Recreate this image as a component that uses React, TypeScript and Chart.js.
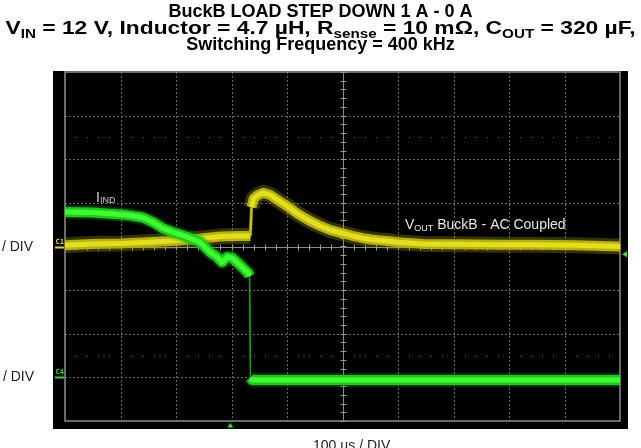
import React, { useEffect, useRef } from "react";
import { Chart, registerables } from "chart.js";

Chart.register(...registerables);

const CANVAS_W = 641;
const CANVAS_H = 448;

// ---- texts ----
const titleLine1: [string, boolean][] = [["BuckB LOAD STEP DOWN 1 A - 0 A", false]];
const titleLine2: [string, boolean][] = [
  ["V", false], ["IN", true], [" = 12 V, Inductor = 4.7 µH, R", false], ["sense", true],
  [" = 10 mΩ, C", false], ["OUT", true], [" = 320 µF,", false],
];
const titleLine3: [string, boolean][] = [["Switching Frequency = 400 kHz", false]];
const timeScaleLabel = "100 µs / DIV";
const voutScaleLabel = "20 mV / DIV";
const iindScaleLabel = "1 A / DIV";
const iindTraceLabel: [string, boolean][] = [["I", false], ["IND", true]];
const voutTraceLabel: [string, boolean][] = [["V", false], ["OUT", true], [" BuckB - AC Coupled", false]];
const ch1Name = "C1";
const ch4Name = "C4";

// ---- screen ranges (10 x 100 µs, 8 vertical divisions) ----
const timeMin = -500;
const timeMax = 500;
const timeDiv = 100;
const divMin = -4;
const divMax = 4;

// channel reference levels (divisions) and trigger
const ch1Level = 0;
const ch4Level = -3;
const triggerTime = -202; // µs
const triggerLevel = -0.18; // div

// ---- V_OUT (AC coupled), divisions vs time in µs ----
const voutTime = [
  -500, -450, -400, -350, -300, -250, -220, -190, -170, -166, -164, -160, -152, -143,
  -130, -115, -100, -82, -65, -53, -38, -23, -5, 8, 22, 37, 52, 68, 85, 98, 120, 145,
  200, 284, 350, 420, 500,
];
const voutDiv = [
  0.03, 0.06, 0.07, 0.1, 0.13, 0.19, 0.23, 0.24, 0.24, 0.24, 0.9, 1.1, 1.18, 1.23,
  1.18, 1.05, 0.93, 0.76, 0.63, 0.55, 0.46, 0.38, 0.32, 0.28, 0.23, 0.19, 0.16, 0.14, 0.12, 0.1, 0.08, 0.06,
  0.05, 0.04, 0.04, 0.03, 0.0,
];

// ---- I_IND, divisions vs time in µs ----
const iindTime = [
  -500, -450, -388, -360, -342, -324, -306, -280, -257, -251, -239, -226, -217, -208,
  -199, -185, -170, -167.5, -165.8, -163, 0, 500,
];
const iindDiv = [
  0.79, 0.78, 0.72, 0.665, 0.56, 0.42, 0.33, 0.22, 0.1, 0.03, -0.13, -0.24, -0.36, -0.24,
  -0.26, -0.42, -0.61, -0.68, -3.01, -3.06, -3.06, -3.06,
];

function isEdge(times: number[], vals: number[], i: number) {
  const dt = Math.abs(times[i + 1] - times[i]);
  const dv = Math.abs(vals[i + 1] - vals[i]);
  return dv / dt > 0.2;
}

function drawRich(
  ctx: CanvasRenderingContext2D,
  parts: [string, boolean][],
  x: number,
  baseline: number,
  mainFont: string,
  subFont: string,
  subOffset: number,
  align: "left" | "center" | "right",
  targetWidth?: number
) {
  let natural = 0;
  for (const [t, sub] of parts) {
    ctx.font = sub ? subFont : mainFont;
    natural += ctx.measureText(t).width;
  }
  const sx = targetWidth ? targetWidth / natural : 1;
  const total = natural * sx;
  const start = align === "left" ? x : align === "center" ? x - total / 2 : x - total;
  ctx.save();
  ctx.translate(start, 0);
  ctx.scale(sx, 1);
  ctx.textAlign = "left";
  ctx.textBaseline = "alphabetic";
  let cx = 0;
  for (const [t, sub] of parts) {
    ctx.font = sub ? subFont : mainFont;
    ctx.fillText(t, cx, baseline + (sub ? subOffset : 0));
    cx += ctx.measureText(t).width;
  }
  ctx.restore();
}

const scopePlugin = {
  id: "scopeScreen",
  beforeDraw(chart: any) {
    const ctx: CanvasRenderingContext2D = chart.ctx;
    const { left, right, top, bottom } = chart.chartArea;
    const xs = chart.scales.x;
    const ys = chart.scales.y;
    ctx.save();
    ctx.fillStyle = "#ffffff";
    ctx.fillRect(0, 0, CANVAS_W, CANVAS_H);
    ctx.fillStyle = "#000000";
    ctx.fillRect(left - 12, top - 1, right - left + 20, bottom - top + 9);

    const px = (t: number) => Math.round(xs.getPixelForValue(t)) + 0.5;
    const py = (d: number) => Math.round(ys.getPixelForValue(d)) + 0.5;

    // dashed grid
    ctx.lineWidth = 1;
    ctx.strokeStyle = "#6a6a6a";
    ctx.setLineDash([2, 2]);
    for (let t = timeMin + timeDiv; t < timeMax; t += timeDiv) {
      if (t === 0) continue;
      ctx.beginPath();
      ctx.moveTo(px(t), top);
      ctx.lineTo(px(t), bottom);
      ctx.stroke();
    }
    for (let d = divMin + 1; d < divMax; d += 1) {
      if (d === 0) continue;
      ctx.beginPath();
      ctx.moveTo(left, py(d));
      ctx.lineTo(right, py(d));
      ctx.stroke();
    }
    ctx.setLineDash([]);

    // dotted rows at +/- 2.5 div
    ctx.fillStyle = "#6a6a6a";
    for (const d of [2.5, -2.5]) {
      for (let t = timeMin; t <= timeMax; t += timeDiv / 5) {
        if (Math.abs(t % timeDiv) < 1e-6) continue;
        ctx.fillRect(Math.round(xs.getPixelForValue(t)), Math.round(ys.getPixelForValue(d)), 1, 1);
      }
    }

    // centre cross with ticks
    ctx.strokeStyle = "#8a8a8a";
    ctx.beginPath();
    ctx.moveTo(px(0), top);
    ctx.lineTo(px(0), bottom);
    ctx.moveTo(left, py(0));
    ctx.lineTo(right, py(0));
    ctx.stroke();
    ctx.strokeStyle = "#9a9a9a";
    ctx.beginPath();
    for (let t = timeMin; t <= timeMax; t += timeDiv / 5) {
      ctx.moveTo(px(t), py(0) - 3);
      ctx.lineTo(px(t), py(0) + 3);
    }
    for (let d = divMin; d <= divMax + 1e-6; d += 0.2) {
      ctx.moveTo(px(0) - 3, py(d));
      ctx.lineTo(px(0) + 3, py(d));
    }
    ctx.stroke();

    // border
    ctx.strokeStyle = "#8e8e8e";
    ctx.lineWidth = 1.5;
    ctx.strokeRect(left, top, right - left, bottom - top);
    ctx.restore();
  },
  afterDraw(chart: any) {
    const ctx: CanvasRenderingContext2D = chart.ctx;
    const { right, bottom } = chart.chartArea;
    const xs = chart.scales.x;
    const ys = chart.scales.y;
    ctx.save();

    // title
    ctx.fillStyle = "#000000";
    const tMain = "bold 18px 'Liberation Sans', Arial, sans-serif";
    const tSub = "bold 12px 'Liberation Sans', Arial, sans-serif";
    drawRich(ctx, titleLine1, 320.5, 17, tMain, tSub, 4, "center");
    drawRich(ctx, titleLine2, 320.5, 33.5, tMain, tSub, 4, "center", 630);
    drawRich(ctx, titleLine3, 320.5, 50, tMain, tSub, 4, "center");

    // outer scale labels
    ctx.fillStyle = "#222222";
    ctx.font = "14px 'Liberation Sans', Arial, sans-serif";
    ctx.textAlign = "right";
    ctx.fillText(voutScaleLabel, 33, ys.getPixelForValue(ch1Level) + 4.5);
    ctx.fillText(iindScaleLabel, 34, ys.getPixelForValue(ch4Level) + 4);
    ctx.textAlign = "left";
    ctx.fillText(timeScaleLabel, 313, 450);

    // trace labels
    ctx.fillStyle = "#cfcfcf";
    drawRich(ctx, iindTraceLabel, 96, 201.5, "14px 'Liberation Sans', Arial, sans-serif",
      "9px 'Liberation Sans', Arial, sans-serif", 1, "left");
    ctx.fillStyle = "#e6e6e6";
    drawRich(ctx, voutTraceLabel, 405, 229, "14px 'Liberation Sans', Arial, sans-serif",
      "9px 'Liberation Sans', Arial, sans-serif", 2, "left");

    // channel markers
    const y1 = Math.round(ys.getPixelForValue(ch1Level)) + 0.5;
    const y4 = Math.round(ys.getPixelForValue(ch4Level)) + 0.5;
    ctx.font = "bold 7px 'DejaVu Sans Mono', monospace";
    ctx.textAlign = "left";
    ctx.fillStyle = "#e0d800";
    ctx.fillText(ch1Name, 55.5, y1 - 4);
    ctx.fillRect(55, y1 - 1, 9, 2);
    ctx.fillStyle = "#20e020";
    ctx.fillText(ch4Name, 55.5, y4 - 4);
    ctx.fillRect(55, y4 - 1, 9, 2);

    // trigger markers
    ctx.fillStyle = "#22ee22";
    const tx = xs.getPixelForValue(triggerTime);
    ctx.beginPath();
    ctx.moveTo(tx, bottom + 2);
    ctx.lineTo(tx - 3, bottom + 6.5);
    ctx.lineTo(tx + 3, bottom + 6.5);
    ctx.closePath();
    ctx.fill();
    const ty = ys.getPixelForValue(triggerLevel);
    ctx.beginPath();
    ctx.moveTo(right + 2, ty);
    ctx.lineTo(right + 7, ty - 3);
    ctx.lineTo(right + 7, ty + 3);
    ctx.closePath();
    ctx.fill();
    ctx.restore();
  },
};

export default function App() {
  const ref = useRef<HTMLCanvasElement | null>(null);

  useEffect(() => {
    if (!ref.current) return;
    const voutPts = voutTime.map((t, i) => ({ x: t, y: voutDiv[i] }));
    const iindPts = iindTime.map((t, i) => ({ x: t, y: iindDiv[i] }));
    const seg = (times: number[], vals: number[], wide: number, thin: number, edgeColor: string) => ({
      borderWidth: (c: any) => (isEdge(times, vals, c.p0DataIndex) ? thin : wide),
      borderColor: (c: any) => (isEdge(times, vals, c.p0DataIndex) ? edgeColor : undefined),
    });
    const common = {
      pointRadius: 0,
      fill: false,
      tension: 0,
      borderJoinStyle: "round" as const,
      borderCapStyle: "butt" as const,
    };
    const chart = new Chart(ref.current, {
      type: "line",
      data: {
        datasets: [
          { ...common, label: "I_IND core", data: iindPts, borderColor: "#40ff30", borderWidth: 5,
            segment: seg(iindTime, iindDiv, 5, 1.2, "#00b000") },
          { ...common, label: "I_IND", data: iindPts, borderColor: "#18cc18", borderWidth: 10,
            segment: seg(iindTime, iindDiv, 10, 1.2, "#00a000") },
          { ...common, label: "I_IND halo", data: iindPts, borderColor: "rgba(0,170,0,0.3)", borderWidth: 14,
            segment: seg(iindTime, iindDiv, 14, 1.2, "rgba(0,150,0,0.3)") },
          { ...common, label: "V_OUT core", data: voutPts, borderColor: "#e2de20", borderWidth: 5,
            segment: seg(voutTime, voutDiv, 5, 2, "#c8c000") },
          { ...common, label: "V_OUT", data: voutPts, borderColor: "#b8b200", borderWidth: 10,
            segment: seg(voutTime, voutDiv, 10, 3, "#9a9400") },
          { ...common, label: "V_OUT halo", data: voutPts, borderColor: "rgba(170,164,0,0.3)", borderWidth: 16,
            segment: seg(voutTime, voutDiv, 16, 3, "rgba(140,134,0,0.3)") },
        ],
      },
      options: {
        responsive: false,
        animation: false,
        events: [],
        layout: { padding: { left: 65, top: 72, right: 21, bottom: 27 } },
        scales: {
          x: { type: "linear", min: timeMin, max: timeMax, display: false },
          y: { type: "linear", min: divMin, max: divMax, display: false },
        },
        plugins: { legend: { display: false }, title: { display: false }, tooltip: { enabled: false } },
      },
      plugins: [scopePlugin],
    });
    return () => chart.destroy();
  }, []);

  return (
    <div style={{ position: "absolute", left: 0, top: 0, width: CANVAS_W, height: CANVAS_H }}>
      <canvas ref={ref} width={CANVAS_W} height={CANVAS_H} style={{ display: "block" }} />
    </div>
  );
}
